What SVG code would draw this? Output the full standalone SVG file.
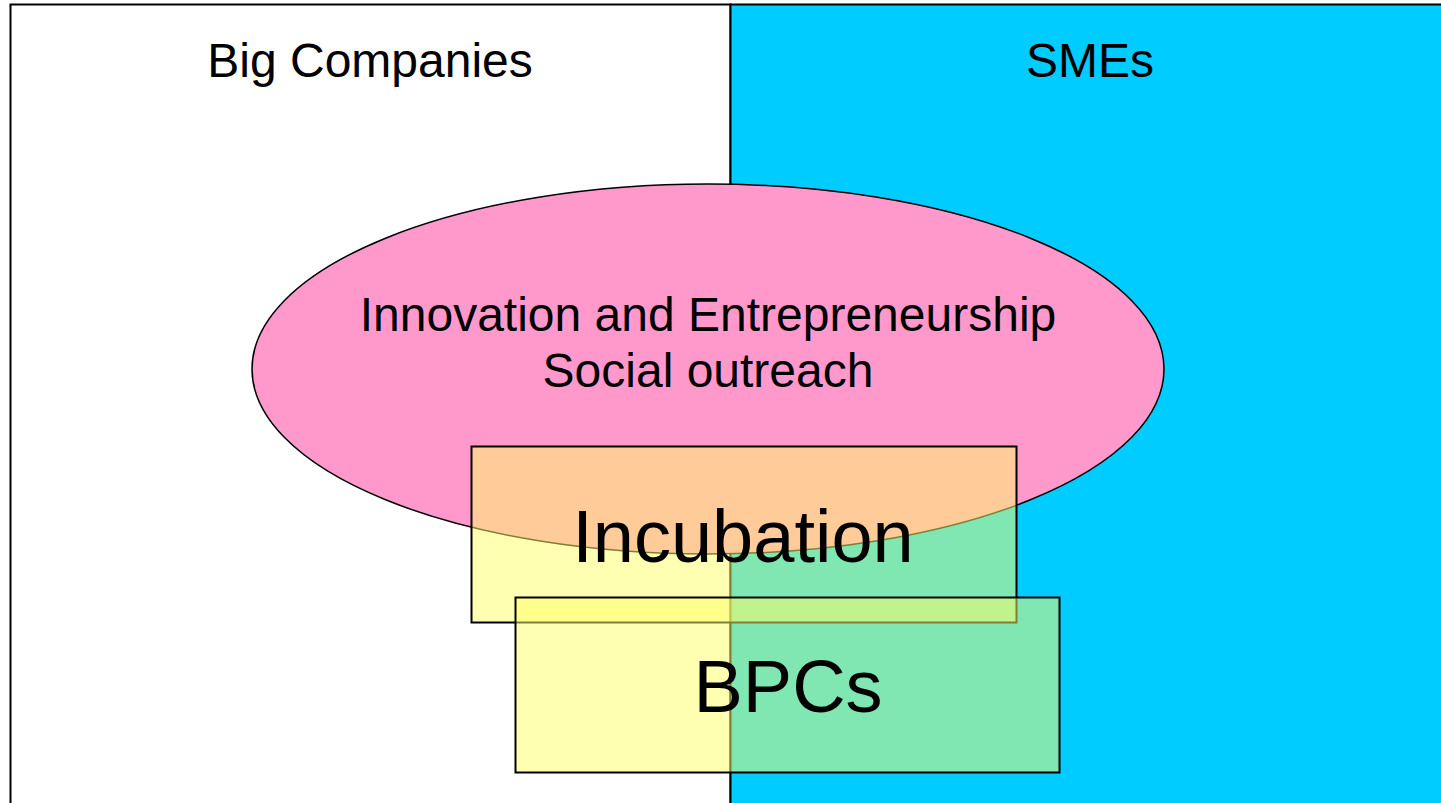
<svg xmlns="http://www.w3.org/2000/svg" width="1441" height="803" viewBox="0 0 1441 803">
<style>
text{font-family:"Liberation Sans",Arial,sans-serif;fill:#000;text-anchor:middle}
.t{font-size:48px}
.b{font-size:74px}
.box{stroke:#000;stroke-width:2}
.rect{fill:#FFFF66;fill-opacity:0.5;stroke:#000;stroke-width:2}
</style>
<rect width="1441" height="803" fill="#fff"/>
<g id="big-companies">
<rect class="box" x="10.5" y="4.5" width="720" height="810" fill="#fff"/>
<text class="t" x="370" y="77">Big Companies</text>
</g>
<g id="smes">
<rect class="box" x="730.5" y="4.5" width="720" height="810" fill="#00CCFF"/>
<text class="t" x="1090" y="77">SMEs</text>
</g>
<g id="innovation">
<ellipse cx="708" cy="369" rx="456" ry="185" fill="#FF99CC" stroke="#000" stroke-width="1.5"/>
</g>
<g id="incubation">
<rect class="rect" x="471.5" y="446.5" width="545" height="176"/>
</g>
<g id="bpcs">
<rect class="rect" x="515.5" y="597.5" width="544" height="175"/>
</g>
<g id="labels">
<text class="t" x="708" y="331">Innovation and Entrepreneurship</text>
<text class="t" x="708" y="387">Social outreach</text>
<text class="b" x="743" y="562">Incubation</text>
<text class="b" x="788" y="712">BPCs</text>
</g>
<g id="connectors"/>
</svg>
